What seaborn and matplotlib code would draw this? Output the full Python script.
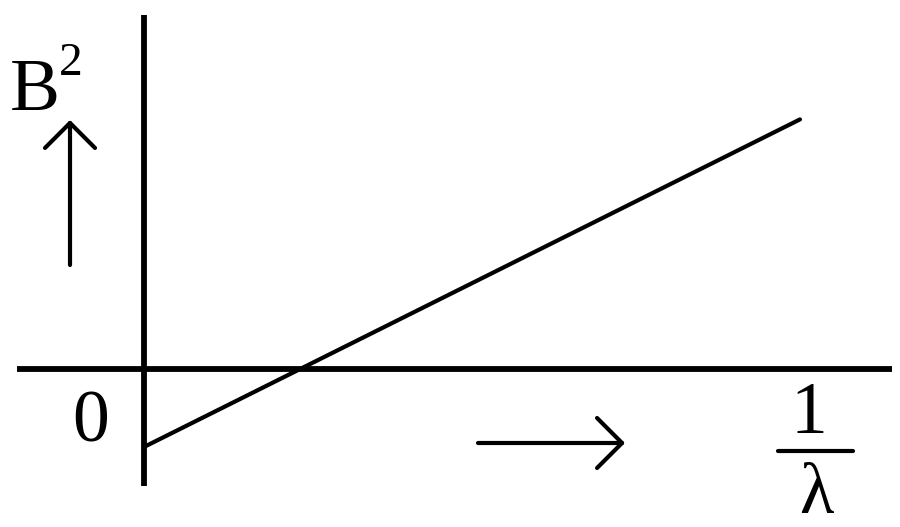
import matplotlib
matplotlib.use('Agg')
import matplotlib.pyplot as plt
import seaborn as sns

# Data for the B^2 vs 1/lambda line (intercept below zero)
inv_lambda = [0.0, 4.0]
b_squared = [-1.0, 3.2]

# Axis limits chosen so the origin sits where it does in the sketch
x_limits = (-0.878, 4.61)
y_limits = (-2.026, 4.731)


def px(x, y):
    """Convert pixel position (from top-left) to figure fraction."""
    return x / 900, 1 - y / 527


def main():
    sns.set_style('white')
    plt.rcParams['font.family'] = ['Liberation Serif', 'DejaVu Serif']
    plt.rcParams['text.color'] = 'black'

    fig = plt.figure(figsize=(9, 5.27), dpi=100)
    ax = fig.add_axes([0, 0, 1, 1])
    ax.set_xlim(*x_limits)
    ax.set_ylim(*y_limits)
    ax.axis('off')

    # Coordinate axes
    ax.axhline(0, xmin=17 / 900, xmax=892 / 900, color='black', lw=4.2, solid_capstyle='butt')
    ax.axvline(0, ymin=1 - 486 / 527, ymax=1 - 15 / 527, color='black', lw=4.2, solid_capstyle='butt')

    # Straight line
    sns.lineplot(x=inv_lambda, y=b_squared, ax=ax, color='black', lw=3)

    # Labels
    fig.text(*px(10, 110), 'B', fontsize=54, ha='left', va='baseline', color='black')
    fig.text(*px(59, 75), '2', fontsize=34, ha='left', va='baseline', color='black')
    fig.text(*px(91, 442), '0', fontsize=53, ha='center', va='baseline', color='black')
    fig.text(*px(809, 433), '1', fontsize=53, ha='center', va='baseline', color='black')
    fig.text(*px(816, 513), 'λ', fontsize=51, ha='center', va='baseline', color='black')
    fig.add_artist(plt.Line2D([778 / 900, 853 / 900], [1 - 451 / 527] * 2,
                              color='black', lw=3, transform=fig.transFigure))

    # Direction arrows
    arrow = dict(arrowstyle='->, head_length=0.9, head_width=0.9', color='black',
                 lw=3, mutation_scale=20, shrinkA=0, shrinkB=0)
    ax.annotate('', xy=px(70, 120), xytext=px(70, 265), xycoords='figure fraction',
                textcoords='figure fraction', arrowprops=arrow)
    ax.annotate('', xy=px(625, 443), xytext=px(478, 443), xycoords='figure fraction',
                textcoords='figure fraction', arrowprops=arrow)

    fig.savefig('out.png', dpi=100)


if __name__ == "__main__":
    main()
